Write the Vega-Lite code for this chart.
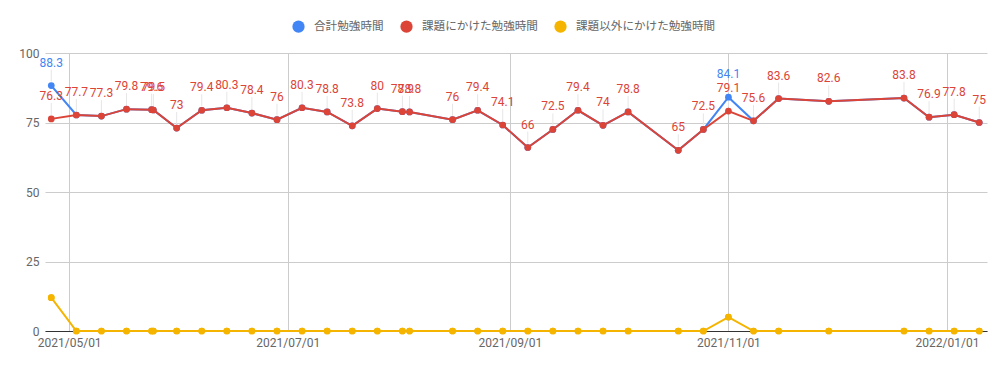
{
  "$schema": "https://vega.github.io/schema/vega-lite/v6.json",
  "width": 942,
  "height": 278,
  "autosize": "none",
  "padding": {"left": 45, "top": 53, "right": 18, "bottom": 40},
  "config": {
    "view": {"stroke": null},
    "font": "Roboto",
    "axis": {"labelFont": "Roboto", "labelFontSize": 12, "labelColor": "#666666", "ticks": false, "gridColor": "#cccccc", "gridWidth": 1},
    "legend": {"symbolSize": 150}
  },
  "data": {"values": [
    {"date": "2021-04-26", "合計勉強時間": 88.3, "課題にかけた勉強時間": 76.3, "課題以外にかけた勉強時間": 12},
    {"date": "2021-05-03", "合計勉強時間": 77.7, "課題にかけた勉強時間": 77.7, "課題以外にかけた勉強時間": 0},
    {"date": "2021-05-10", "合計勉強時間": 77.3, "課題にかけた勉強時間": 77.3, "課題以外にかけた勉強時間": 0},
    {"date": "2021-05-17", "合計勉強時間": 79.8, "課題にかけた勉強時間": 79.8, "課題以外にかけた勉強時間": 0},
    {"date": "2021-05-24", "合計勉強時間": 79.6, "課題にかけた勉強時間": 79.6, "課題以外にかけた勉強時間": 0},
    {"date": "2021-05-24T12:00:00Z", "合計勉強時間": 79.5, "課題にかけた勉強時間": 79.5, "課題以外にかけた勉強時間": 0},
    {"date": "2021-05-31", "合計勉強時間": 73, "課題にかけた勉強時間": 73, "課題以外にかけた勉強時間": 0},
    {"date": "2021-06-07", "合計勉強時間": 79.4, "課題にかけた勉強時間": 79.4, "課題以外にかけた勉強時間": 0},
    {"date": "2021-06-14", "合計勉強時間": 80.3, "課題にかけた勉強時間": 80.3, "課題以外にかけた勉強時間": 0},
    {"date": "2021-06-21", "合計勉強時間": 78.4, "課題にかけた勉強時間": 78.4, "課題以外にかけた勉強時間": 0},
    {"date": "2021-06-28", "合計勉強時間": 76, "課題にかけた勉強時間": 76, "課題以外にかけた勉強時間": 0},
    {"date": "2021-07-05", "合計勉強時間": 80.3, "課題にかけた勉強時間": 80.3, "課題以外にかけた勉強時間": 0},
    {"date": "2021-07-12", "合計勉強時間": 78.8, "課題にかけた勉強時間": 78.8, "課題以外にかけた勉強時間": 0},
    {"date": "2021-07-19", "合計勉強時間": 73.8, "課題にかけた勉強時間": 73.8, "課題以外にかけた勉強時間": 0},
    {"date": "2021-07-26", "合計勉強時間": 80, "課題にかけた勉強時間": 80, "課題以外にかけた勉強時間": 0},
    {"date": "2021-08-02", "合計勉強時間": 78.9, "課題にかけた勉強時間": 78.9, "課題以外にかけた勉強時間": 0},
    {"date": "2021-08-04", "合計勉強時間": 78.8, "課題にかけた勉強時間": 78.8, "課題以外にかけた勉強時間": 0},
    {"date": "2021-08-16", "合計勉強時間": 76, "課題にかけた勉強時間": 76, "課題以外にかけた勉強時間": 0},
    {"date": "2021-08-23", "合計勉強時間": 79.4, "課題にかけた勉強時間": 79.4, "課題以外にかけた勉強時間": 0},
    {"date": "2021-08-30", "合計勉強時間": 74.1, "課題にかけた勉強時間": 74.1, "課題以外にかけた勉強時間": 0},
    {"date": "2021-09-06", "合計勉強時間": 66, "課題にかけた勉強時間": 66, "課題以外にかけた勉強時間": 0},
    {"date": "2021-09-13", "合計勉強時間": 72.5, "課題にかけた勉強時間": 72.5, "課題以外にかけた勉強時間": 0},
    {"date": "2021-09-20", "合計勉強時間": 79.4, "課題にかけた勉強時間": 79.4, "課題以外にかけた勉強時間": 0},
    {"date": "2021-09-27", "合計勉強時間": 74, "課題にかけた勉強時間": 74, "課題以外にかけた勉強時間": 0},
    {"date": "2021-10-04", "合計勉強時間": 78.8, "課題にかけた勉強時間": 78.8, "課題以外にかけた勉強時間": 0},
    {"date": "2021-10-18", "合計勉強時間": 65, "課題にかけた勉強時間": 65, "課題以外にかけた勉強時間": 0},
    {"date": "2021-10-25", "合計勉強時間": 72.5, "課題にかけた勉強時間": 72.5, "課題以外にかけた勉強時間": 0},
    {"date": "2021-11-01", "合計勉強時間": 84.1, "課題にかけた勉強時間": 79.1, "課題以外にかけた勉強時間": 5},
    {"date": "2021-11-08", "合計勉強時間": 75.6, "課題にかけた勉強時間": 75.6, "課題以外にかけた勉強時間": 0},
    {"date": "2021-11-15", "合計勉強時間": 83.6, "課題にかけた勉強時間": 83.6, "課題以外にかけた勉強時間": 0},
    {"date": "2021-11-29", "合計勉強時間": 82.6, "課題にかけた勉強時間": 82.6, "課題以外にかけた勉強時間": 0},
    {"date": "2021-12-20", "合計勉強時間": 83.8, "課題にかけた勉強時間": 83.8, "課題以外にかけた勉強時間": 0},
    {"date": "2021-12-27", "合計勉強時間": 76.9, "課題にかけた勉強時間": 76.9, "課題以外にかけた勉強時間": 0},
    {"date": "2022-01-03", "合計勉強時間": 77.8, "課題にかけた勉強時間": 77.8, "課題以外にかけた勉強時間": 0},
    {"date": "2022-01-10", "合計勉強時間": 75, "課題にかけた勉強時間": 75, "課題以外にかけた勉強時間": 0}
  ]},
  "transform": [
    {"fold": ["合計勉強時間", "課題にかけた勉強時間", "課題以外にかけた勉強時間"], "as": ["series", "value"]}
  ],
  "encoding": {
    "x": {
      "field": "date", "type": "temporal", "title": null,
      "scale": {"type": "utc", "domain": [
        {"year": 2021, "month": 4, "date": 24, "hours": 6, "utc": true},
        {"year": 2022, "month": 1, "date": 12, "hours": 4, "utc": true}
      ]},
      "axis": {
        "values": [
          {"year": 2021, "month": 5, "date": 1, "utc": true},
          {"year": 2021, "month": 7, "date": 1, "utc": true},
          {"year": 2021, "month": 9, "date": 1, "utc": true},
          {"year": 2021, "month": 11, "date": 1, "utc": true},
          {"year": 2022, "month": 1, "date": 1, "utc": true}
        ],
        "format": "%Y/%m/%d", "grid": true, "domain": true, "domainColor": "#333333", "labelPadding": 6, "labelOverlap": false, "labelFlush": false
      }
    },
    "y": {
      "field": "value", "type": "quantitative", "title": null,
      "scale": {"domain": [0, 100]},
      "axis": {"values": [0, 25, 50, 75, 100], "domain": false, "grid": true, "labelPadding": 6}
    },
    "color": {"field": "series", "type": "nominal",
      "scale": {"domain": ["合計勉強時間", "課題にかけた勉強時間", "課題以外にかけた勉強時間"], "range": ["#4285F4", "#DB4437", "#F4B400"]},
      "legend": {"orient": "none", "legendX": 247, "legendY": -33, "direction": "horizontal", "title": null, "symbolType": "circle", "symbolSize": 150, "symbolStrokeWidth": 0, "symbolOpacity": 1, "labelOffset": 9, "columnPadding": 16, "labelFontSize": 11.6, "labelColor": "#666666", "labelFont": "Roboto, 'Noto Sans CJK JP'", "padding": 0,
        "encode": {"symbols": {"enter": {"size": {"value": 150}}, "update": {"size": {"value": 150}}}}}}
  },
  "layer": [
    {
      "transform": [{"filter": "datum.series == '課題以外にかけた勉強時間'"}],
      "mark": {"type": "point", "filled": true, "size": 45, "opacity": 1, "strokeWidth": 0}
    },
    {
      "transform": [{"filter": "datum.series == '合計勉強時間' && datum['合計勉強時間'] != datum['課題にかけた勉強時間']"}],
      "mark": {"type": "rule", "strokeWidth": 1, "yOffset": -4, "y2Offset": -16},
      "encoding": {"y2": {"field": "value"}, "color": {"value": "#e6e6e6"}}
    },
    {
      "transform": [{"filter": "datum.series == '課題にかけた勉強時間'"}],
      "mark": {"type": "rule", "strokeWidth": 1, "yOffset": -4, "y2Offset": -16},
      "encoding": {"y2": {"field": "value"}, "color": {"value": "#e6e6e6"}}
    },
    {
      "transform": [{"filter": "datum.series == '合計勉強時間'"}],
      "mark": {"type": "line", "strokeWidth": 2}
    },
    {
      "transform": [{"filter": "datum.series == '合計勉強時間'"}],
      "mark": {"type": "point", "filled": true, "size": 45, "opacity": 1, "strokeWidth": 0}
    },
    {
      "transform": [{"filter": "datum.series == '課題にかけた勉強時間'"}],
      "mark": {"type": "line", "strokeWidth": 2}
    },
    {
      "transform": [{"filter": "datum.series == '課題にかけた勉強時間'"}],
      "mark": {"type": "point", "filled": true, "size": 45, "opacity": 1, "strokeWidth": 0}
    },
    {
      "transform": [{"filter": "datum.series == '課題以外にかけた勉強時間'"}],
      "mark": {"type": "line", "strokeWidth": 2}
    },
    {
      "transform": [{"filter": "datum.series == '課題以外にかけた勉強時間'"}],
      "mark": {"type": "point", "filled": true, "size": 45, "opacity": 1, "strokeWidth": 0}
    },
    {
      "transform": [{"filter": "datum.series == '合計勉強時間' && datum['合計勉強時間'] != datum['課題にかけた勉強時間']"}],
      "mark": {"type": "text", "font": "Roboto", "fontSize": 12, "baseline": "middle", "align": "center", "dy": -23},
      "encoding": {"text": {"field": "value", "type": "quantitative"}, "color": {"value": "#4285F4"}}
    },
    {
      "transform": [{"filter": "datum.series == '課題にかけた勉強時間'"}],
      "mark": {"type": "text", "font": "Roboto", "fontSize": 12, "baseline": "middle", "align": "center", "dy": -23},
      "encoding": {"text": {"field": "value", "type": "quantitative"}, "color": {"value": "#DB4437"}}
    }
  ]
}
